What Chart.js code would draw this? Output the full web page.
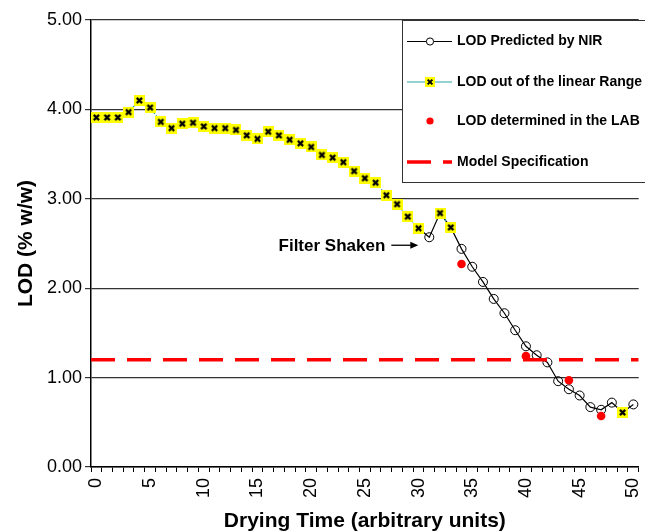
<!DOCTYPE html>
<html>
<head>
<meta charset="utf-8">
<script src="https://cdn.jsdelivr.net/npm/chart.js@4/dist/chart.umd.min.js"></script>
<style>
html,body{margin:0;padding:0;background:#fff;}
#wrap{width:645px;height:532px;position:relative;}
</style>
</head>
<body>
<div id="wrap"><canvas id="c" width="645" height="532"></canvas></div>
<script>
const categories = [0,1,2,3,4,5,6,7,8,9,10,11,12,13,14,15,16,17,18,19,20,21,22,23,24,25,26,27,28,29,30,31,32,33,34,35,36,37,38,39,40,41,42,43,44,45,46,47,48,49,50];
const xTickLabels = [0,5,10,15,20,25,30,35,40,45,50];
const yTickValues = [0,1,2,3,4,5];

// LOD predicted by NIR (black line, open circles)
const nirPredicted = [null,null,null,null,null,null,null,null,null,null,
  null,null,null,null,null,null,null,null,null,null,
  null,null,null,null,null,null,null,null,null,null,
  2.67,2.57,2.84,2.68,2.44,2.24,2.07,1.88,1.72,1.53,
  1.35,1.25,1.17,0.96,0.87,0.80,0.67,0.64,0.72,0.61,0.70];

// LOD out of the linear range (teal line, yellow markers)
const outOfRange = [3.91,3.91,3.91,3.97,4.10,4.02,3.86,3.79,3.84,3.85,
  3.81,3.79,3.79,3.77,3.71,3.67,3.75,3.71,3.66,3.62,
  3.58,3.49,3.46,3.41,3.31,3.23,3.18,3.04,2.94,2.80,
  2.67,null,2.84,2.68,null,null,null,null,null,null,
  null,null,null,null,null,null,null,null,null,0.61,null];

// LOD determined in the LAB (red dots)
const labResults = [null,null,null,null,null,null,null,null,null,null,
  null,null,null,null,null,null,null,null,null,null,
  null,null,null,null,null,null,null,null,null,null,
  null,null,null,null,2.27,null,null,null,null,null,
  1.24,null,null,null,0.97,null,null,0.57,null,null,null];

// Model specification level
const specLevel = 1.2;

const FONT = "'Liberation Sans', Arial, Helvetica, sans-serif";

// yellow square marker with black x
function makeMarker(size, lw){
  const cv = document.createElement('canvas');
  cv.width = size; cv.height = size;
  const g = cv.getContext('2d');
  g.fillStyle = '#ffff00';
  g.fillRect(0,0,size,size);
  g.strokeStyle = '#000';
  g.lineWidth = lw;
  g.lineCap = 'butt';
  const a = size*0.26, b = size*0.74;
  g.beginPath();
  g.moveTo(a,a); g.lineTo(b,b);
  g.moveTo(b,a); g.lineTo(a,b);
  g.stroke();
  return cv;
}
const yellowMarker = makeMarker(11, 2.2);
const yellowMarkerSmall = makeMarker(10, 2);

const overlay = {
  id: 'overlay',
  afterDraw(chart){
    const ctx = chart.ctx;
    const xs = chart.scales.x, ys = chart.scales.y;
    ctx.save();
    // Filter Shaken annotation
    const px = xs.getPixelForValue(31), py = ys.getPixelForValue(nirPredicted[31]);
    const ay = py + 8;
    ctx.strokeStyle = '#000'; ctx.fillStyle = '#000'; ctx.lineWidth = 1.3;
    ctx.beginPath(); ctx.moveTo(px - 38, ay); ctx.lineTo(px - 18, ay); ctx.stroke();
    ctx.beginPath(); ctx.moveTo(px - 11, ay); ctx.lineTo(px - 19, ay - 3.5); ctx.lineTo(px - 19, ay + 3.5); ctx.closePath(); ctx.fill();
    ctx.font = "bold 17px " + FONT;
    ctx.textAlign = 'right'; ctx.textBaseline = 'middle';
    ctx.fillText('Filter Shaken', px - 44, py + 9.5);

    // Legend box
    const bx = 402, by = 20;
    ctx.fillStyle = '#fff';
    ctx.fillRect(bx, by, 260, 163);
    ctx.strokeStyle = '#333'; ctx.lineWidth = 1;
    ctx.strokeRect(bx + 0.5, by + 0.5, 260, 162);
    const lx0 = 407, lx1 = 452, mx = 430, tx = 457;
    ctx.font = "bold 14px " + FONT;
    ctx.textAlign = 'left'; ctx.textBaseline = 'middle';
    // 1
    let y = 41.5;
    ctx.strokeStyle = '#000'; ctx.lineWidth = 1.2; ctx.setLineDash([]);
    ctx.beginPath(); ctx.moveTo(lx0, y); ctx.lineTo(lx1, y); ctx.stroke();
    ctx.beginPath(); ctx.arc(mx, y, 3.6, 0, Math.PI*2); ctx.fillStyle = '#fff'; ctx.fill(); ctx.lineWidth = 1; ctx.stroke();
    ctx.fillStyle = '#000'; ctx.fillText('LOD Predicted by NIR', tx, y);
    // 2
    y = 82;
    ctx.strokeStyle = '#2aa3a3'; ctx.lineWidth = 1.2;
    ctx.beginPath(); ctx.moveTo(lx0, y); ctx.lineTo(lx1, y); ctx.stroke();
    ctx.drawImage(yellowMarkerSmall, mx - 5, y - 5);
    ctx.fillStyle = '#000'; ctx.fillText('LOD out of the linear Range', tx, y);
    // 3
    y = 121;
    ctx.fillStyle = '#ff0000';
    ctx.beginPath(); ctx.arc(mx, y, 3.6, 0, Math.PI*2); ctx.fill();
    ctx.fillStyle = '#000'; ctx.fillText('LOD determined in the LAB', tx, y);
    // 4
    y = 162;
    ctx.strokeStyle = '#ff0000'; ctx.lineWidth = 3.5; ctx.setLineDash([24,12]);
    ctx.beginPath(); ctx.moveTo(lx0, y); ctx.lineTo(lx1, y); ctx.stroke();
    ctx.setLineDash([]);
    ctx.fillStyle = '#000'; ctx.fillText('Model Specification', tx, y);
    ctx.restore();
  }
};

new Chart(document.getElementById('c'), {
  type: 'line',
  data: {
    labels: categories,
    datasets: [
      {
        label: 'Model Specification',
        data: [{x: 0, y: specLevel}, {x: 1, y: specLevel}],
        xAxisID: 'x2',
        borderColor: '#ff0000',
        borderWidth: 3.5,
        borderDash: [24, 12],
        pointRadius: 0,
        fill: false,
        order: 0
      },
      {
        label: 'LOD out of the linear Range',
        data: outOfRange,
        borderColor: '#2aa3a3',
        borderWidth: 1.3,
        borderDash: [2, 2],
        pointStyle: yellowMarker,
        pointRadius: 5,
        spanGaps: false,
        fill: false,
        order: 1
      },
      {
        label: 'LOD determined in the LAB',
        data: labResults,
        showLine: false,
        pointStyle: 'circle',
        pointRadius: 4.3,
        pointBackgroundColor: '#ff0000',
        pointBorderColor: '#ff0000',
        pointBorderWidth: 0,
        order: 2
      },
      {
        label: 'LOD Predicted by NIR',
        data: nirPredicted,
        borderColor: '#000',
        borderWidth: 1.2,
        pointStyle: 'circle',
        pointRadius: (c) => (outOfRange[c.dataIndex] != null ? 0 : 4.5),
        pointBorderColor: '#000',
        pointBackgroundColor: 'rgba(0,0,0,0)',
        pointBorderWidth: 1,
        spanGaps: false,
        fill: false,
        order: 3
      }
    ]
  },
  options: {
    responsive: false,
    animation: false,
    events: [],
    layout: { padding: { top: 20, right: 5, bottom: 0, left: 0 } },
    plugins: { legend: { display: false }, tooltip: { enabled: false } },
    scales: {
      x: {
        type: 'category',
        offset: true,
        grid: { display: true, offset: true, drawOnChartArea: false, drawTicks: true, tickLength: 5, color: '#000', lineWidth: 1 },
        border: { display: true, color: '#000', width: 1.5 },
        ticks: {
          autoSkip: false, minRotation: 90, maxRotation: 90, padding: 6,
          color: '#000', font: { family: FONT, size: 18 },
          callback: function(v, i){ return xTickLabels.includes(categories[i]) ? String(categories[i]) : ''; }
        },
        title: { display: true, text: 'Drying Time (arbitrary units)', color: '#000',
          font: { family: FONT, size: 21, weight: 'bold', lineHeight: 1.0 }, padding: { top: 0, bottom: 0 } },
        afterFit(s){ s.height = 65; s.paddingLeft = 0; s.paddingRight = 0; }
      },
      x2: { type: 'linear', display: false, min: 0, max: 1 },
      y: {
        min: 0, max: 5,
        afterBuildTicks(s){ s.ticks = yTickValues.map(v => ({value: v})); },
        grid: { color: '#333', lineWidth: 1.2, tickLength: 6, drawTicks: true },
        border: { display: true, color: '#000', width: 1.5 },
        ticks: { color: '#000', padding: 3, font: { family: FONT, size: 18 },
          callback: (v) => Number(v).toFixed(2) },
        title: { display: true, text: 'LOD (% w/w)', color: '#000',
          font: { family: FONT, size: 21, weight: 'bold', lineHeight: 1.0 }, padding: { top: 15.5, bottom: 0 } },
        afterFit(s){ s.width = 91; s.paddingTop = 0; s.paddingBottom = 0; }
      }
    }
  },
  plugins: [overlay]
});
</script>
</body>
</html>
